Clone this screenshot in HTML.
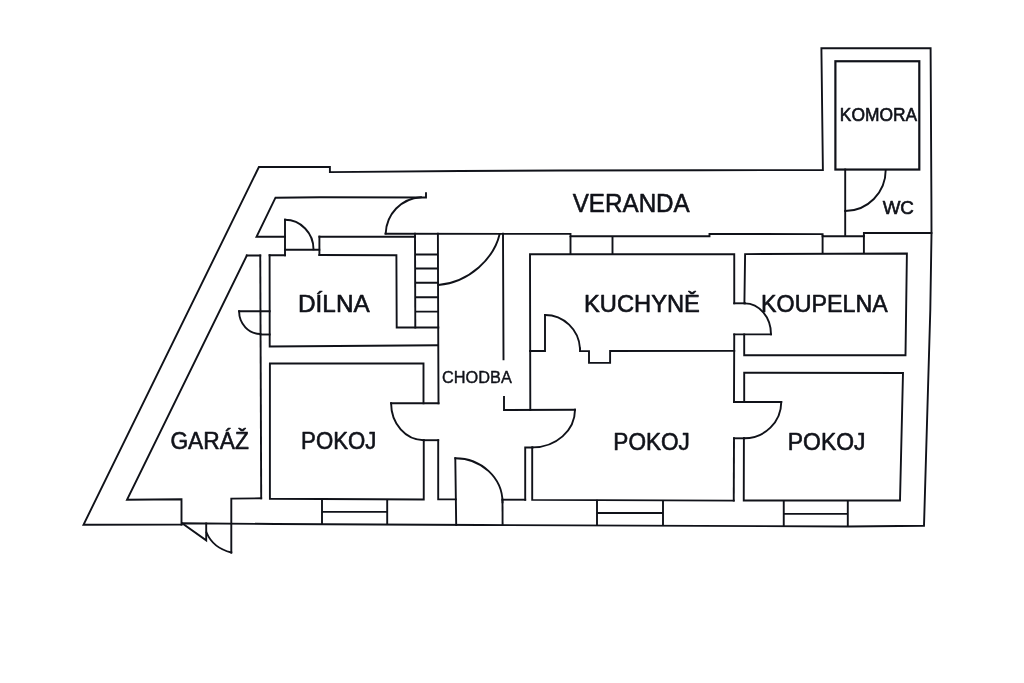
<!DOCTYPE html>
<html><head><meta charset="utf-8">
<style>
html,body{margin:0;padding:0;background:#fff;}
body{width:1024px;height:683px;overflow:hidden;font-family:"Liberation Sans",sans-serif;}
svg{display:block;}
.l{fill:none;stroke:#101219;stroke-width:1.9;stroke-linecap:square;stroke-linejoin:miter;}
.k{fill:none;stroke:#101219;stroke-width:2.2;stroke-linejoin:miter;}
text{font-family:"Liberation Sans",sans-serif;fill:#101219;stroke:#101219;stroke-width:0.6;stroke-linejoin:round;}
</style></head><body>
<svg width="1024" height="683" viewBox="0 0 1024 683">
<defs><filter id="nf" x="0" y="0" width="1024" height="683" filterUnits="userSpaceOnUse"><feOffset dx="0" dy="0"/></filter></defs>
<rect width="1024" height="683" fill="#fff"/>
<g class="l">
<!-- outer -->
<path d="M181.5,524.55 L83.5,524.75 L258.9,167 L329.9,167 L329.9,172.1 L460,171 L560,170.5 L700,170.2 L822.9,170.1 L821.4,48.25 L930.6,48.25 L931.4,200 L931.5,234 L930.3,310 L924,525.7 L848,526.45 L480,525.05 L325,524.2 L275,524 L182,523.2"/>
<!-- veranda inner top-left -->
<path d="M426,193.3 L426,197.5 L320,197.2 L275.5,197.7 L256.5,236.8 L285,236.8"/>
<path d="M285,219.8 L285,255.3"/>
<path d="M285,219.8 A28.6,29.5 0 0 1 313.5,249.3"/>
<path d="M285,249.75 L319.3,249.75"/>
<path d="M319.4,236.6 L319.4,255"/>
<path d="M319.4,236.8 L415,236.8"/>
<path d="M319.4,255 L396.4,255.2 L396.7,327.5 L438.3,327.5"/>
<path d="M246.8,255.5 L260.25,255.5 M269.6,255.3 L285,255.3"/>
<path d="M260.25,255.5 L261.2,498.3"/>
<path d="M269.6,255.3 L269.7,346.5 L437.8,345.3"/>
<!-- garage/dilna door -->
<path d="M239.1,311.25 L269.7,311.25"/>
<path d="M239.1,311.25 A21.4,22.7 0 0 0 260.5,334"/>
<path d="M260.5,334.5 L269.7,334.5"/>
<!-- garage -->
<path d="M246.8,255.5 L127,499.75 L181.5,499.2 L181.5,524.55"/>
<path d="M231.3,552.6 L231.3,498.6 L261.2,498.3"/>
<path d="M182.5,523.6 L206.2,540.3 L206.2,523.5"/>
<path d="M206.5,532.5 Q213,548 231.3,552.5"/>
<!-- pokoj1 -->
<path d="M423.5,403.3 L423.5,363.4 L269.9,363.5 L269.9,498.7 L423.75,499.5 L423.75,440.2"/>
<path d="M391.1,403.3 L438.5,403.3"/>
<path d="M391.1,403.3 A32.65,36.9 0 0 0 423.75,440.2"/>
<path d="M423.75,440.2 L438.2,440.2"/>
<path d="M437.9,233.7 L438.1,300 L438.5,403.3"/>
<path d="M438.2,440.2 L438.2,499.3 L455.8,499.4"/>
<path d="M455.3,458.2 L456.2,525"/>
<path d="M455.3,458.2 A47.2,44 0 0 1 502.5,502.2"/>
<path d="M502.5,499.7 L502.6,525.1"/>
<path d="M502.5,499.7 L525.2,499.7"/>
<path style="stroke-linecap:butt" d="M322,499 L322,524.2 M387.2,499.3 L387.2,524.5 M322,511.9 L387.2,511.9"/>
<!-- stairs -->
<path d="M415,233.7 L415.3,327.5"/>
<path style="stroke-linecap:butt" d="M415,254.5 H438 M415,268.5 H438 M415,282.7 H438 M415,297.2 H438 M415,311.6 H438"/>
<!-- veranda door -->
<path d="M385.7,233.4 C386.5,214 401,198.5 421,197.2"/>
<!-- veranda bottom line -->
<path d="M385.5,233.8 L570.5,233.9 L570.5,236.25 L709.5,236.25 L709.5,234 L822.6,234.1 L822.6,236.3 L863.9,236.3 L863.9,233 L931.4,233"/>
<!-- chodba door -->
<path d="M499.6,234.3 C494,258 470,282 438.3,285"/>
<path d="M503,233.75 L503.5,359.2"/>
<path d="M504,396.9 L504,410 L575,409.7"/>
<path d="M575,409.7 A42.5,37.7 0 0 1 532.5,447.4"/>
<path d="M525.2,499.7 L525.2,447.5 L532.5,447.5"/>
<path d="M532.2,447.5 L532.2,499.9 L733.75,500.6"/>
<path style="stroke-linecap:butt" d="M597,499.8 L597,525.5 M663,500.1 L663,525.7 M597,513 L663,513"/>
<!-- kuchyne -->
<path d="M530.3,410 L530,254.2 L734.25,254.2 L734.25,303.3"/>
<path d="M734.25,334.4 L734,402"/>
<path d="M734,438.3 L733.75,500.6"/>
<path d="M530,350.95 L545,350.95 L545,315"/>
<path d="M545,315 A35,35.5 0 0 1 580,348.5"/>
<path d="M580,348.5 L580,351.1 L589,351.1 L589,362.9 L610.1,362.9 L610.1,351 L734.25,350.9"/>
<path style="stroke-linecap:butt" d="M570.5,236 L570.5,254 M612.5,236 L612.5,254"/>
<path style="stroke-linecap:butt" d="M822.6,235 L822.6,253.5 M863.9,235 L863.9,253.5"/>
<!-- koupelna -->
<path d="M744.4,303.3 L745.1,254.1 L906.9,253.5 L905.5,355.3 L744.2,355.3 L744.2,334.4"/>
<path d="M734.25,303.3 L745,303.3"/>
<path d="M744.8,303.4 A26.2,31 0 0 1 771,334.4"/>
<path d="M734.25,334.4 L771,334.4"/>
<!-- pokoj3 -->
<path d="M744.2,402 L744.2,372.7 L903,373 L900,500.5 L743.75,500.5 L743.9,438.3"/>
<path d="M734,402 L781.25,402"/>
<path d="M781.25,402 A37,36.3 0 0 1 744.2,438.3"/>
<path d="M734,438.3 L744.2,438.3"/>
<path style="stroke-linecap:butt" d="M783.75,500.5 L783.75,526.2 M847.8,500.5 L847.8,526.4 M783.75,513.9 L847.8,513.9"/>
<!-- wc -->
<path d="M845.2,169.5 L845.2,235"/>
<path d="M885.7,170 A40.5,41 0 0 1 845.2,211"/>
</g>
<rect class="k" x="835.4" y="61.25" width="83.9" height="108.3"/>
<g filter="url(#nf)">
<text x="572.65" y="211.6" font-size="26" textLength="117.15" lengthAdjust="spacingAndGlyphs">VERANDA</text>
<text x="839.85" y="120.5" font-size="17.8" textLength="77.25" lengthAdjust="spacingAndGlyphs">KOMORA</text>
<text x="882.65" y="214.05" font-size="18.4" textLength="31.3" lengthAdjust="spacingAndGlyphs">WC</text>
<text x="298.05" y="312.25" font-size="23.2" textLength="71.65" lengthAdjust="spacingAndGlyphs">DÍLNA</text>
<text x="584" y="311.65" font-size="23" textLength="115.85" lengthAdjust="spacingAndGlyphs">KUCHYNĚ</text>
<text x="761.1" y="311.7" font-size="23.2" textLength="126.6" lengthAdjust="spacingAndGlyphs">KOUPELNA</text>
<text x="442" y="383.2" font-size="16" textLength="69.75" lengthAdjust="spacingAndGlyphs" style="stroke-width:0.4">CHODBA</text>
<text x="170.4" y="448.5" font-size="23.3" textLength="78.4" lengthAdjust="spacingAndGlyphs">GARÁŽ</text>
<text x="301.1" y="448.75" font-size="23.2" textLength="75.2" lengthAdjust="spacingAndGlyphs">POKOJ</text>
<text x="613.35" y="449.7" font-size="23.2" textLength="76.55" lengthAdjust="spacingAndGlyphs">POKOJ</text>
<text x="787.85" y="449.9" font-size="23.2" textLength="77.55" lengthAdjust="spacingAndGlyphs">POKOJ</text>
</g>
</svg>
</body></html>
